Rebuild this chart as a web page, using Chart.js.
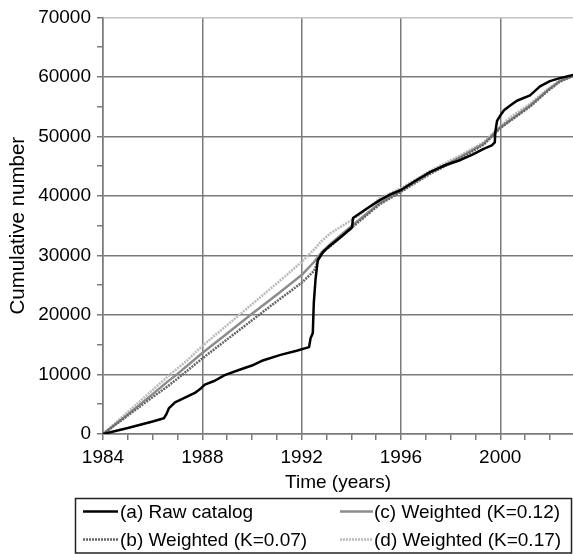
<!DOCTYPE html>
<html><head><meta charset="utf-8">
<script src="https://cdn.jsdelivr.net/npm/chart.js@4/dist/chart.umd.min.js"></script>
<style>html,body{margin:0;padding:0;background:#fff;overflow:hidden;}#wrap{width:573px;height:554px;position:relative;}canvas{display:block;}</style>
</head><body><div id="wrap"><canvas id="c" width="573" height="554"></canvas></div>
<script>
const seriesLabels = ['(a) Raw catalog', '(b) Weighted (K=0.07)', '(c) Weighted (K=0.12)', '(d) Weighted (K=0.17)'];

const rawYears = [1984.0, 1984.5, 1985.0, 1985.5, 1986.0, 1986.45, 1986.55, 1986.65, 1986.9, 1987.3, 1987.7, 1987.95, 1988.1, 1988.5, 1988.9, 1989.5, 1990.0, 1990.4, 1991.15, 1991.8, 1992.3, 1992.36, 1992.45, 1992.49, 1992.56, 1992.65, 1992.85, 1993.1, 1993.6, 1994.03, 1994.07, 1994.6, 1995.15, 1995.6, 1996.0, 1996.6, 1997.17, 1997.8, 1998.38, 1998.9, 1999.33, 1999.66, 1999.78, 1999.8, 1999.87, 2000.0, 2000.15, 2000.4, 2000.67, 2001.2, 2001.6, 2002.0, 2002.4, 2003.0];
const rawCounts = [0, 500, 1000, 1550, 2100, 2650, 3300, 4300, 5300, 6100, 6900, 7700, 8300, 8950, 9900, 10800, 11500, 12300, 13300, 14000, 14600, 16100, 16950, 22000, 26000, 29200, 30500, 31500, 33200, 34700, 36300, 37800, 39300, 40300, 41000, 42600, 44000, 45200, 46000, 47000, 47900, 48500, 49000, 50700, 52600, 53500, 54400, 55200, 56000, 56900, 58400, 59300, 59800, 60400];

const bYears = [1984, 1985, 1986, 1986.6, 1987, 1988, 1989, 1990, 1991, 1992, 1992.5, 1992.7, 1992.9, 1993.15, 1994, 1995.15, 1996, 1997.17, 1998.38, 1999.33, 2000, 2001.2, 2001.9, 2002.4, 2003];
const bCounts = [0, 3100, 6200, 8000, 9300, 12700, 15900, 19100, 22300, 25400, 27400, 29500, 30900, 31500, 34600, 38600, 40700, 43700, 46300, 48600, 51400, 55000, 57600, 59200, 60300];

const cYears = [1984, 1985, 1986, 1986.6, 1987, 1988, 1989, 1990, 1991, 1992, 1992.5, 1992.8, 1993.15, 1994, 1995.15, 1996, 1997.17, 1998.38, 1999.33, 2000, 2001.2, 2001.9, 2002.4, 2003];
const cCounts = [0, 3300, 6700, 8800, 10100, 13600, 16900, 20200, 23400, 26700, 28900, 30500, 31900, 34900, 38800, 40900, 43900, 46500, 48800, 51500, 55200, 57700, 59300, 60300];

const dYears = [1984, 1985, 1986, 1986.7, 1987.4, 1988, 1989, 1990, 1991, 1991.5, 1992, 1992.5, 1992.8, 1993.15, 1993.8, 1994.4, 1995.15, 1996, 1997.17, 1998.38, 1999.33, 2000, 2000.4, 2001.2, 2001.9, 2002.4, 2003];
const dCounts = [0, 3700, 7400, 10000, 12400, 14800, 18300, 21800, 25300, 27100, 28900, 31000, 32400, 33700, 35400, 37000, 39600, 41300, 44200, 46800, 49000, 51700, 53200, 55500, 57900, 59400, 60300];

const yTickLabelStep = 10000;
const xTickLabelStep = 4;

function pts(xs, ys) { return xs.map((x, i) => ({x: x, y: ys[i]})); }

const FONT = 'Liberation Sans, Arial, sans-serif';
const FS = 19;
const GRID = '#7a7a7a';

const styles = [
  {color: '#000000', dash: [], width: 2.5},
  {color: '#666666', dash: [2, 1], width: 2.5},
  {color: '#8c8c8c', dash: [], width: 2.5},
  {color: '#bababa', dash: [2, 1], width: 2.5}
];

const legendPlugin = {
  id: 'boxLegend',
  afterDraw(chart) {
    const ctx = chart.ctx;
    ctx.save();
    ctx.strokeStyle = '#222';
    ctx.lineWidth = 1.5;
    ctx.strokeRect(75.5, 498.5, 496, 54.5);
    const pos = [
      {x0: 83, x1: 118, tx: 120, y: 511.5},
      {x0: 83, x1: 118, tx: 120, y: 539.5},
      {x0: 340, x1: 373, tx: 374, y: 511.5},
      {x0: 340, x1: 373, tx: 374, y: 539.5}
    ];
    ctx.font = FS + 'px ' + FONT;
    ctx.textBaseline = 'middle';
    ctx.fillStyle = '#000';
    pos.forEach((p, i) => {
      const s = styles[i];
      ctx.beginPath();
      ctx.setLineDash(s.dash);
      ctx.strokeStyle = s.color;
      ctx.lineWidth = s.width;
      ctx.moveTo(p.x0, p.y);
      ctx.lineTo(p.x1, p.y);
      ctx.stroke();
      ctx.setLineDash([]);
      ctx.fillText(seriesLabels[i], p.tx, p.y + 1);
    });
    ctx.restore();
  }
};

const seriesData = [pts(rawYears, rawCounts), pts(bYears, bCounts), pts(cYears, cCounts), pts(dYears, dCounts)];

new Chart(document.getElementById('c').getContext('2d'), {
  type: 'line',
  data: {
    datasets: seriesData.map((d, i) => ({
      label: seriesLabels[i],
      data: d,
      borderColor: styles[i].color,
      borderDash: styles[i].dash,
      borderWidth: styles[i].width,
      pointRadius: 0,
      tension: 0,
      fill: false,
      borderJoinStyle: 'round'
    }))
  },
  options: {
    responsive: false,
    animation: false,
    devicePixelRatio: 1,
    layout: {padding: {top: 15, right: 0, bottom: 56, left: 0}},
    plugins: {legend: {display: false}, tooltip: {enabled: false}},
    scales: {
      x: {
        type: 'linear', min: 1984, max: 2002.93,
        ticks: {
          stepSize: 1, autoSkip: false, maxRotation: 0, padding: 6, color: '#000', includeBounds: false,
          font: {family: FONT, size: FS},
          callback: v => (v % xTickLabelStep === 0 ? String(v) : '')
        },
        grid: {
          color: c => (c.tick && c.tick.value % xTickLabelStep === 0 ? GRID : 'rgba(0,0,0,0)'),
          tickColor: GRID, lineWidth: 1.5, tickLength: 6, drawTicks: true
        },
        border: {display: true, color: GRID, width: 1.5},
        title: {display: true, text: 'Time (years)', color: '#000', font: {family: FONT, size: FS}, padding: {top: 4, bottom: 4}},
        afterFit: s => { s.height = 64; }
      },
      y: {
        min: 0, max: 70000,
        ticks: {
          stepSize: 5000, padding: 6, color: '#000',
          font: {family: FONT, size: FS},
          callback: v => (v % yTickLabelStep === 0 ? String(v) : '')
        },
        grid: {
          color: c => {
            const v = c.tick ? c.tick.value : 0;
            if (v === 70000) return '#c4c4c4';
            return v % yTickLabelStep === 0 ? GRID : 'rgba(0,0,0,0)';
          },
          tickColor: GRID, lineWidth: 1.5, tickLength: 6
        },
        border: {display: true, color: GRID, width: 1.5},
        title: {display: true, text: 'Cumulative number', color: '#000', font: {family: FONT, size: 20.5}, padding: {top: 6, bottom: 4}},
        afterFit: s => { s.width = 103; }
      }
    }
  },
  plugins: [legendPlugin]
});
</script>
</body></html>
